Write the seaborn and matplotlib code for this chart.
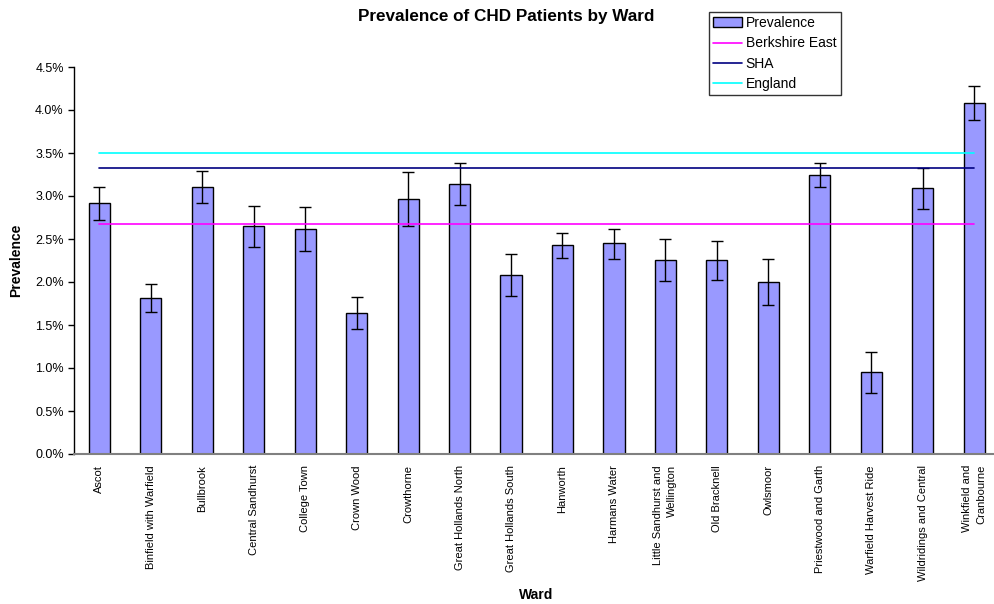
import numpy as np
import pandas as pd
import matplotlib
matplotlib.use("Agg")
import matplotlib.pyplot as plt
import seaborn as sns
from matplotlib.ticker import PercentFormatter, MultipleLocator
from matplotlib.patches import Patch
from matplotlib.lines import Line2D

wards = ["Ascot", "Binfield with Warfield", "Bullbrook", "Central Sandhurst",
         "College Town", "Crown Wood", "Crowthorne", "Great Hollands North",
         "Great Hollands South", "Hanworth", "Harmans Water",
         "Little Sandhurst and\nWellington", "Old Bracknell", "Owlsmoor",
         "Priestwood and Garth", "Warfield Harvest Ride",
         "Wildridings and Central", "Winkfield and\nCranbourne"]
prevalence = [2.92, 1.81, 3.11, 2.65, 2.62, 1.64, 2.96, 3.14, 2.085, 2.43,
              2.45, 2.26, 2.26, 2.00, 3.24, 0.95, 3.09, 4.08]
ci_low = [2.72, 1.65, 2.92, 2.41, 2.36, 1.45, 2.65, 2.90, 1.84, 2.28,
          2.27, 2.01, 2.02, 1.73, 3.10, 0.71, 2.85, 3.88]
ci_high = [3.11, 1.98, 3.29, 2.88, 2.87, 1.83, 3.28, 3.38, 2.33, 2.57,
           2.62, 2.50, 2.48, 2.27, 3.38, 1.19, 3.33, 4.28]
berkshire_east = 2.674
sha = 3.326
england = 3.50

sns.set_theme(style="white")
plt.rcParams["font.family"] = ["Liberation Sans", "DejaVu Sans"]
plt.rcParams.update({"text.color": "black", "axes.labelcolor": "black",
                     "xtick.color": "black", "ytick.color": "black"})

df = pd.DataFrame({"Ward": wards, "Prevalence": prevalence})

fig = plt.figure(figsize=(9.94, 6.04), dpi=100)
ax = fig.add_axes([73.5 / 994, 150 / 604, (1000 - 73.5) / 994, 387 / 604])

sns.barplot(data=df, x="Ward", y="Prevalence", order=wards, color="#9999FF",
            saturation=1, width=0.41, edgecolor="black", linewidth=1.0,
            ax=ax, zorder=2)

pos = np.arange(len(wards))
prev = np.array(prevalence)
yerr = np.vstack([prev - np.array(ci_low), np.array(ci_high) - prev])
ax.errorbar(pos, prev, yerr=yerr, fmt="none", ecolor="black", elinewidth=1.0,
            capsize=4, capthick=1.0, zorder=3)

for val, col in [(berkshire_east, "#FF00FF"), (sha, "#000080"), (england, "#00FFFF")]:
    sns.lineplot(x=pos, y=[val] * len(wards), color=col, linewidth=1.2, ax=ax, zorder=4)

ax.set_xlim(-0.5, len(wards) - 0.5)
ax.set_ylim(0, 4.5)
ax.yaxis.set_major_locator(MultipleLocator(0.5))
ax.yaxis.set_major_formatter(PercentFormatter(decimals=1))
ax.set_xticks(pos)
ax.set_xticklabels(wards, rotation=90, fontsize=8, ha="center", va="top",
                   multialignment="right", linespacing=1.5)
ax.tick_params(axis="x", length=0, pad=8)
ax.set_xticks(pos[:-1] + 0.5, minor=True)
ax.tick_params(axis="x", which="minor", length=4, width=1, color="#808080", direction="out")
ax.tick_params(axis="y", length=4, width=1, color="black", direction="out",
               labelsize=9, pad=3, left=True)
for s in ["top", "right"]:
    ax.spines[s].set_visible(False)
ax.spines["left"].set_color("black")
ax.spines["left"].set_linewidth(1)
ax.spines["bottom"].set_color("#808080")
ax.spines["bottom"].set_linewidth(1.5)

ax.set_xlabel("Ward", fontsize=10, fontweight="bold")
ax.xaxis.set_label_coords((536 - 73.5) / 926.5, -(595 - 454) / 387)
ax.xaxis.label.set_va("center")
ax.set_ylabel("Prevalence", fontsize=10, fontweight="bold")
ax.yaxis.set_label_coords(-(73.5 - 16) / 926.5, 0.5)
ax.yaxis.label.set_va("center")

fig.text(506.5 / 994, 1 - 16 / 604, "Prevalence of CHD Patients by Ward",
         ha="center", va="center", fontsize=12.3, fontweight="bold")

handles = [Patch(facecolor="#9999FF", edgecolor="black", linewidth=1),
           Line2D([], [], color="#FF00FF", linewidth=1.2),
           Line2D([], [], color="#000080", linewidth=1.2),
           Line2D([], [], color="#00FFFF", linewidth=1.2)]
labels = ["Prevalence", "Berkshire East", "SHA", "England"]
leg = fig.legend(handles, labels, loc="upper left",
                 bbox_to_anchor=(709 / 994, 1 - 12 / 604), fontsize=10,
                 frameon=True, fancybox=False, edgecolor="black",
                 borderpad=0.3, handlelength=2.1, handletextpad=0.25,
                 labelspacing=0.45, borderaxespad=0)
leg.get_frame().set_linewidth(1)

fig.savefig("out.png", dpi=100)
